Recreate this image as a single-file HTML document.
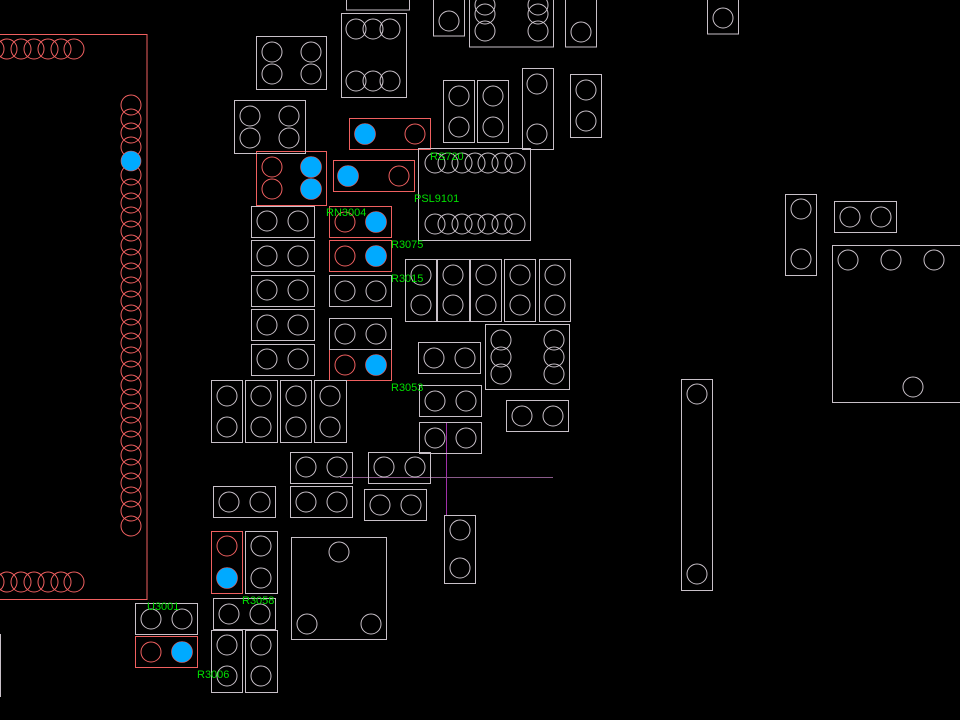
<!DOCTYPE html>
<html><head><meta charset="utf-8"><style>
html,body{margin:0;padding:0;background:#000;width:960px;height:720px;overflow:hidden}
svg{display:block}
text{font-family:"Liberation Sans",sans-serif;font-size:11px;fill:#00e000}
</style></head><body>
<svg width="960" height="720" viewBox="0 0 960 720" xmlns="http://www.w3.org/2000/svg">
<g fill="none" stroke="#f06060" stroke-width="1">
<rect x="-5" y="34.5" width="152" height="565"/>
<circle cx="-6" cy="49" r="10"/><circle cx="7" cy="49" r="10"/><circle cx="21" cy="49" r="10"/><circle cx="34" cy="49" r="10"/><circle cx="48" cy="49" r="10"/><circle cx="61" cy="49" r="10"/><circle cx="74" cy="49" r="10"/>
<circle cx="-6" cy="582" r="10"/><circle cx="7" cy="582" r="10"/><circle cx="21" cy="582" r="10"/><circle cx="34" cy="582" r="10"/><circle cx="48" cy="582" r="10"/><circle cx="61" cy="582" r="10"/><circle cx="74" cy="582" r="10"/>
<circle cx="131" cy="105" r="10"/><circle cx="131" cy="119" r="10"/><circle cx="131" cy="133" r="10"/><circle cx="131" cy="147" r="10"/><circle cx="131" cy="175" r="10"/><circle cx="131" cy="189" r="10"/><circle cx="131" cy="203" r="10"/><circle cx="131" cy="217" r="10"/><circle cx="131" cy="231" r="10"/><circle cx="131" cy="245" r="10"/><circle cx="131" cy="259" r="10"/><circle cx="131" cy="273" r="10"/><circle cx="131" cy="287" r="10"/><circle cx="131" cy="301" r="10"/><circle cx="131" cy="315" r="10"/><circle cx="131" cy="329" r="10"/><circle cx="131" cy="343" r="10"/><circle cx="131" cy="357" r="10"/><circle cx="131" cy="371" r="10"/><circle cx="131" cy="385" r="10"/><circle cx="131" cy="399" r="10"/><circle cx="131" cy="413" r="10"/><circle cx="131" cy="427" r="10"/><circle cx="131" cy="441" r="10"/><circle cx="131" cy="455" r="10"/><circle cx="131" cy="469" r="10"/><circle cx="131" cy="483" r="10"/><circle cx="131" cy="497" r="10"/><circle cx="131" cy="511" r="10"/><circle cx="131" cy="526" r="10"/>
<!-- red parts -->
<rect x="349.5" y="118.5" width="81" height="31"/><circle cx="415" cy="134" r="10"/>
<rect x="256.5" y="151.5" width="70" height="54"/><circle cx="272" cy="167" r="10"/><circle cx="272" cy="189" r="10"/>
<rect x="333.5" y="160.5" width="81" height="31"/><circle cx="399" cy="176" r="10"/>
<rect x="329.5" y="206.5" width="62" height="31"/><circle cx="345" cy="222" r="10"/>
<rect x="329.5" y="240.5" width="62" height="31"/><circle cx="345" cy="256" r="10"/>
<rect x="329.5" y="349.5" width="62" height="31"/><circle cx="345" cy="365" r="10"/>
<rect x="211.5" y="531.5" width="31" height="62"/><circle cx="227" cy="546" r="10"/>
<rect x="135.5" y="636.5" width="62" height="31"/><circle cx="151" cy="652" r="10"/>
</g>
<g fill="#00aaff" stroke="#f06060" stroke-width="0.6">
<circle cx="131" cy="161" r="10"/>
<circle cx="365" cy="134" r="10.5"/>
<circle cx="311" cy="167" r="10.5"/><circle cx="311" cy="189" r="10.5"/>
<circle cx="348" cy="176" r="10.5"/>
<circle cx="376" cy="222" r="10.5"/>
<circle cx="376" cy="256" r="10.5"/>
<circle cx="376" cy="365" r="10.5"/>
<circle cx="227" cy="578" r="10.5"/>
<circle cx="182" cy="652" r="10.5"/>
</g>
<g fill="none" stroke="#a030a8" stroke-width="1">
<line x1="446.5" y1="423" x2="446.5" y2="515"/>
<line x1="340" y1="477.5" x2="553" y2="477.5" stroke="#8a5a8a"/>
</g>
<g fill="none" stroke="#c8c0c8" stroke-width="1">
<rect x="346.5" y="-5" width="63" height="15"/>
<rect x="433.5" y="-5" width="31" height="41"/><circle cx="449" cy="21" r="10"/>
<rect x="469.5" y="-5" width="84" height="52"/><circle cx="485" cy="5" r="10"/><circle cx="485" cy="14" r="10"/><circle cx="485" cy="31" r="10"/><circle cx="538" cy="5" r="10"/><circle cx="538" cy="14" r="10"/><circle cx="538" cy="31" r="10"/>
<rect x="565.5" y="-5" width="31" height="52"/><circle cx="581" cy="32" r="10"/>
<rect x="707.5" y="-5" width="31" height="39"/><circle cx="723" cy="18" r="10"/>
<rect x="256.5" y="36.5" width="70" height="53"/><circle cx="272" cy="52" r="10"/><circle cx="311" cy="52" r="10"/><circle cx="272" cy="74" r="10"/><circle cx="311" cy="74" r="10"/>
<rect x="341.5" y="13.5" width="65" height="84"/><circle cx="356" cy="29" r="10"/><circle cx="373" cy="29" r="10"/><circle cx="390" cy="29" r="10"/><circle cx="356" cy="81" r="10"/><circle cx="373" cy="81" r="10"/><circle cx="390" cy="81" r="10"/>
<rect x="234.5" y="100.5" width="71" height="53"/><circle cx="250" cy="116" r="10"/><circle cx="289" cy="116" r="10"/><circle cx="250" cy="138" r="10"/><circle cx="289" cy="138" r="10"/>
<rect x="443.5" y="80.5" width="31" height="62"/><circle cx="459" cy="96" r="10"/><circle cx="459" cy="127" r="10"/>
<rect x="477.5" y="80.5" width="31" height="62"/><circle cx="493" cy="96" r="10"/><circle cx="493" cy="127" r="10"/>
<rect x="522.5" y="68.5" width="31" height="81"/><circle cx="537" cy="84" r="10"/><circle cx="537" cy="134" r="10"/>
<rect x="570.5" y="74.5" width="31" height="63"/><circle cx="586" cy="90" r="10"/><circle cx="586" cy="121" r="10"/>
<rect x="418.5" y="148.5" width="112" height="92"/>
<circle cx="435" cy="163" r="10"/><circle cx="448" cy="163" r="10"/><circle cx="462" cy="163" r="10"/><circle cx="475" cy="163" r="10"/><circle cx="488" cy="163" r="10"/><circle cx="502" cy="163" r="10"/><circle cx="515" cy="163" r="10"/>
<circle cx="435" cy="224" r="10"/><circle cx="448" cy="224" r="10"/><circle cx="462" cy="224" r="10"/><circle cx="475" cy="224" r="10"/><circle cx="488" cy="224" r="10"/><circle cx="502" cy="224" r="10"/><circle cx="515" cy="224" r="10"/>
<rect x="251.5" y="206.5" width="63" height="31"/><circle cx="267" cy="221" r="10"/><circle cx="298" cy="221" r="10"/>
<rect x="251.5" y="240.5" width="63" height="31"/><circle cx="267" cy="256" r="10"/><circle cx="298" cy="256" r="10"/>
<rect x="251.5" y="275.5" width="63" height="31"/><circle cx="267" cy="290" r="10"/><circle cx="298" cy="290" r="10"/>
<rect x="251.5" y="309.5" width="63" height="31"/><circle cx="267" cy="325" r="10"/><circle cx="298" cy="325" r="10"/>
<rect x="251.5" y="344.5" width="63" height="31"/><circle cx="267" cy="359" r="10"/><circle cx="298" cy="359" r="10"/>
<rect x="329.5" y="275.5" width="62" height="31"/><circle cx="345" cy="291" r="10"/><circle cx="376" cy="291" r="10"/>
<rect x="329.5" y="318.5" width="62" height="31"/><circle cx="345" cy="334" r="10"/><circle cx="376" cy="334" r="10"/>
<rect x="405.5" y="259.5" width="31" height="62"/><circle cx="421" cy="275" r="10"/><circle cx="421" cy="305" r="10"/>
<rect x="437.5" y="259.5" width="32" height="62"/><circle cx="453" cy="275" r="10"/><circle cx="453" cy="305" r="10"/>
<rect x="470.5" y="259.5" width="31" height="62"/><circle cx="486" cy="275" r="10"/><circle cx="486" cy="305" r="10"/>
<rect x="504.5" y="259.5" width="31" height="62"/><circle cx="520" cy="275" r="10"/><circle cx="520" cy="305" r="10"/>
<rect x="539.5" y="259.5" width="31" height="62"/><circle cx="555" cy="275" r="10"/><circle cx="555" cy="305" r="10"/>
<rect x="485.5" y="324.5" width="84" height="65"/><circle cx="501" cy="340" r="10"/><circle cx="501" cy="357" r="10"/><circle cx="501" cy="374" r="10"/><circle cx="554" cy="340" r="10"/><circle cx="554" cy="357" r="10"/><circle cx="554" cy="374" r="10"/>
<rect x="418.5" y="342.5" width="62" height="31"/><circle cx="434" cy="358" r="10"/><circle cx="465" cy="358" r="10"/>
<rect x="419.5" y="385.5" width="62" height="31"/><circle cx="435" cy="401" r="10"/><circle cx="466" cy="401" r="10"/>
<rect x="506.5" y="400.5" width="62" height="31"/><circle cx="522" cy="416" r="10"/><circle cx="553" cy="416" r="10"/>
<rect x="419.5" y="422.5" width="62" height="31"/><circle cx="435" cy="438" r="10"/><circle cx="466" cy="438" r="10"/>
<rect x="211.5" y="380.5" width="31" height="62"/><circle cx="227" cy="396" r="10"/><circle cx="227" cy="427" r="10"/>
<rect x="245.5" y="380.5" width="32" height="62"/><circle cx="261" cy="396" r="10"/><circle cx="261" cy="427" r="10"/>
<rect x="280.5" y="380.5" width="31" height="62"/><circle cx="296" cy="396" r="10"/><circle cx="296" cy="427" r="10"/>
<rect x="314.5" y="380.5" width="32" height="62"/><circle cx="330" cy="396" r="10"/><circle cx="330" cy="427" r="10"/>
<rect x="290.5" y="452.5" width="62" height="31"/><circle cx="306" cy="467" r="10"/><circle cx="337" cy="467" r="10"/>
<rect x="368.5" y="452.5" width="62" height="31"/><circle cx="384" cy="467" r="10"/><circle cx="415" cy="467" r="10"/>
<rect x="213.5" y="486.5" width="62" height="31"/><circle cx="229" cy="502" r="10"/><circle cx="260" cy="502" r="10"/>
<rect x="290.5" y="486.5" width="62" height="31"/><circle cx="306" cy="502" r="10"/><circle cx="337" cy="502" r="10"/>
<rect x="364.5" y="489.5" width="62" height="31"/><circle cx="380" cy="505" r="10"/><circle cx="411" cy="505" r="10"/>
<rect x="444.5" y="515.5" width="31" height="68"/><circle cx="460" cy="530" r="10"/><circle cx="460" cy="568" r="10"/>
<rect x="291.5" y="537.5" width="95" height="102"/><circle cx="339" cy="552" r="10"/><circle cx="307" cy="624" r="10"/><circle cx="371" cy="624" r="10"/>
<rect x="245.5" y="531.5" width="32" height="62"/><circle cx="261" cy="546" r="10"/><circle cx="261" cy="578" r="10"/>
<rect x="213.5" y="598.5" width="62" height="31"/><circle cx="229" cy="614" r="10"/><circle cx="260" cy="614" r="10"/>
<rect x="135.5" y="603.5" width="62" height="31"/><circle cx="151" cy="619" r="10"/><circle cx="182" cy="619" r="10"/>
<rect x="211.5" y="630.5" width="31" height="62"/><circle cx="227" cy="645" r="10"/><circle cx="227" cy="676" r="10"/>
<rect x="245.5" y="630.5" width="32" height="62"/><circle cx="261" cy="645" r="10"/><circle cx="261" cy="676" r="10"/>
<line x1="0.5" y1="634" x2="0.5" y2="697"/>
<rect x="785.5" y="194.5" width="31" height="81"/><circle cx="801" cy="209" r="10"/><circle cx="801" cy="259" r="10"/>
<rect x="834.5" y="201.5" width="62" height="31"/><circle cx="850" cy="217" r="10"/><circle cx="881" cy="217" r="10"/>
<rect x="832.5" y="245.5" width="140" height="157"/><circle cx="848" cy="260" r="10"/><circle cx="891" cy="260" r="10"/><circle cx="934" cy="260" r="10"/><circle cx="913" cy="387" r="10"/>
<rect x="681.5" y="379.5" width="31" height="211"/><circle cx="697" cy="394" r="10"/><circle cx="697" cy="574" r="10"/>
</g>
<text x="430" y="160">RS720</text>
<text x="414" y="202">PSL9101</text>
<text x="326" y="216">RN3004</text>
<text x="391" y="248">R3075</text>
<text x="391" y="282">R3015</text>
<text x="391" y="391">R3053</text>
<text x="147" y="610">U3001</text>
<text x="242" y="604">R3058</text>
<text x="197" y="678">R3006</text>
</svg>
</body></html>
